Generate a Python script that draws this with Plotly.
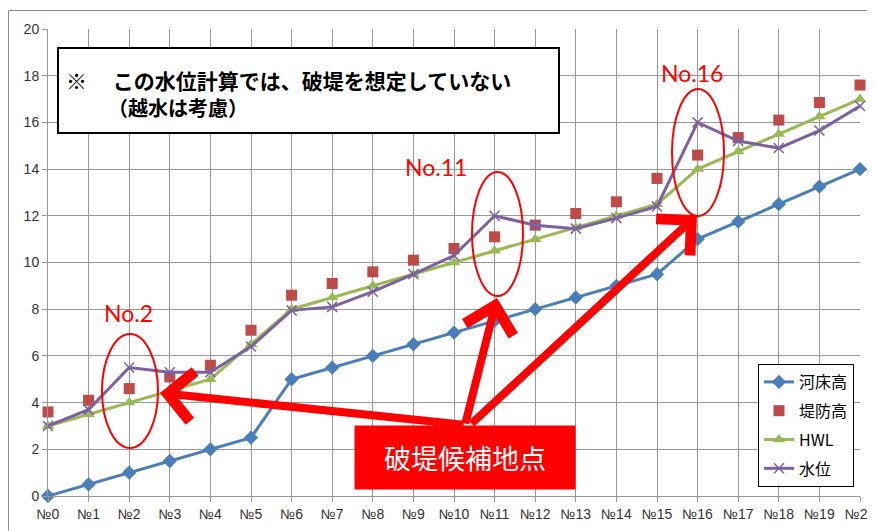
import plotly.graph_objects as go

categories = ["№%d" % i for i in range(21)]
y_ticks = [0, 2, 4, 6, 8, 10, 12, 14, 16, 18, 20]

riverbed = [0, 0.5, 1.0, 1.5, 2.0, 2.5, 5.0, 5.5, 6.0, 6.5, 7.0, 7.5, 8.0, 8.5, 9.0, 9.5, 11.0, 11.75, 12.5, 13.25, 14.0]
levee = [3.6, 4.1, 4.6, 5.1, 5.6, 7.1, 8.6, 9.1, 9.6, 10.1, 10.6, 11.1, 11.6, 12.1, 12.6, 13.6, 14.6, 15.35, 16.1, 16.85, 17.6]
hwl = [3.0, 3.5, 4.0, 4.5, 5.0, 6.5, 8.0, 8.5, 9.0, 9.5, 10.0, 10.5, 11.0, 11.5, 12.0, 12.5, 14.0, 14.75, 15.5, 16.25, 17.0]
water = [3.0, 3.7, 5.5, 5.3, 5.3, 6.4, 7.95, 8.1, 8.75, 9.5, 10.3, 12.0, 11.6, 11.45, 11.9, 12.4, 16.0, 15.2, 14.9, 15.65, 16.7]

names = ["河床高", "堤防高", "HWL", "水位"]

OFF = 8  # page body margin
W, H = 875 - OFF, 531 - OFF
L, R, T, B = 48 - OFF, 15, 29 - OFF, 35
PW, PH = W - L - R, H - T - B


def px2data(px, py):
    return (px - OFF - L) / (PW / 20), (H - B - (py - OFF)) / (PH / 20)


def px2paper(px, py):
    return (px - OFF - L) / PW, (H - B - (py - OFF)) / PH


fig = go.Figure()
fig.add_trace(go.Scatter(x=categories, y=riverbed, name=names[0], mode="lines+markers",
                         line=dict(color="#4A7EBB", width=3),
                         marker=dict(symbol="diamond", size=11, color="#4A7EBB"),
                         cliponaxis=False, legendgroup="a"))
fig.add_trace(go.Scatter(x=categories, y=levee, name=names[1], mode="markers",
                         marker=dict(symbol="square", size=11, color="#BE4B48"),
                         cliponaxis=False, legendgroup="b"))
fig.add_trace(go.Scatter(x=categories, y=hwl, name=names[2], mode="lines+markers",
                         line=dict(color="#98B954", width=3),
                         marker=dict(symbol="triangle-up", size=11, color="#98B954"),
                         cliponaxis=False, legendgroup="c"))
fig.add_trace(go.Scatter(x=categories, y=water, name=names[3], mode="lines+markers",
                         line=dict(color="#7D60A0", width=3),
                         marker=dict(symbol="x-thin-open", size=10, color="#7D60A0",
                                     line=dict(color="#7D60A0", width=1.5)),
                         cliponaxis=False, legendgroup="d"))

shapes = []
# outer chart frame
fx0, fy0 = px2paper(8.5, 10.5)
shapes.append(dict(type="rect", xref="paper", yref="paper", x0=fx0, y0=-0.09, x1=1.03, y1=fy0,
                   line=dict(color="#8C8C8C", width=1), layer="below"))
# note box
bx0, by0 = px2paper(58, 48)
bx1, by1 = px2paper(559, 133)
shapes.append(dict(type="rect", xref="paper", yref="paper", x0=bx0, y0=by1, x1=bx1, y1=by0,
                   line=dict(color="black", width=2), fillcolor="white", layer="above"))
# ellipses
for (a, b, c, d) in [(102, 334, 158, 448), (472, 172, 523, 296), (672, 89, 724, 216)]:
    ex0, ey0 = px2data(a, b)
    ex1, ey1 = px2data(c, d)
    shapes.append(dict(type="circle", xref="x", yref="y", x0=ex0, y0=ey1, x1=ex1, y1=ey0,
                       line=dict(color="#FF0000", width=2), layer="above"))

ann = []
nfont = "Noto Sans CJK JP"
lx, ly = px2paper(64, 80)
ann.append(dict(xref="paper", yref="paper", x=lx, y=ly, xanchor="left", yanchor="middle",
                text="<b>※　 この水位計算では、破堤を想定していない</b>", showarrow=False,
                font=dict(family=nfont, size=21, color="black")))
lx, ly = px2paper(106, 107)
ann.append(dict(xref="paper", yref="paper", x=lx, y=ly, xanchor="left", yanchor="middle",
                text="<b>（越水は考慮）</b>", showarrow=False,
                font=dict(family=nfont, size=20, color="black")))

for txt, (cx, cy) in [("No.2", (128, 313)), ("No.11", (436, 167)), ("No.16", (692, 73))]:
    dx, dy = px2data(cx, cy)
    ann.append(dict(xref="x", yref="y", x=dx, y=dy, text=txt, showarrow=False,
                    font=dict(family="Lato, Liberation Sans", size=23, color="#FF0000")))

# arrows
for (tipx, tipy, tailx, taily) in [(160, 393, 465, 425), (497, 298, 465, 425), (697, 215, 470, 425)]:
    dx, dy = px2data(tipx, tipy)
    ann.append(dict(xref="x", yref="y", x=dx, y=dy, ax=tailx - tipx, ay=taily - tipy,
                    text="", showarrow=True, arrowhead=4, arrowsize=1.2, arrowwidth=8,
                    arrowcolor="#FF0000", standoff=0))

# red label box
cx, cy = px2paper(465, 457.5)
ann.append(dict(xref="paper", yref="paper", x=cx, y=cy, xanchor="center", yanchor="middle",
                text="破堤候補地点", showarrow=False, width=218, height=61,
                bgcolor="#FF0000", font=dict(family=nfont, size=27, color="white")))

lgx, lgy = px2paper(758, 364)

fig.update_layout(
    width=W, height=H,
    margin=dict(l=L, r=R, t=T, b=B, autoexpand=False),
    paper_bgcolor="white", plot_bgcolor="white",
    shapes=shapes, annotations=ann,
    showlegend=True,
    legend=dict(x=lgx, y=lgy, xanchor="left", yanchor="top", bgcolor="white",
                bordercolor="black", borderwidth=1, traceorder="grouped", tracegroupgap=5,
                itemwidth=30, font=dict(family=nfont, size=16, color="black")),
    font=dict(family="Liberation Sans, Noto Sans CJK JP", size=14, color="#333333"),
)
fig.update_xaxes(type="category", range=[0, 20], showgrid=True, gridcolor="#989898", gridwidth=1,
                 showline=True, linecolor="#989898", ticks="outside", tickcolor="#989898", ticklen=5,
                 tickfont=dict(family="Liberation Sans, Noto Sans CJK JP", size=14, color="#333333"),
                 automargin=False, zeroline=False, fixedrange=True)
fig.update_yaxes(range=[0, 20], tickvals=y_ticks, showgrid=True, gridcolor="#989898", gridwidth=1,
                 showline=True, linecolor="#989898", ticks="outside", tickcolor="#989898", ticklen=5,
                 tickfont=dict(family="Liberation Sans", size=14, color="#333333"),
                 automargin=False, zeroline=False, fixedrange=True)

fig.write_html("out.html")
